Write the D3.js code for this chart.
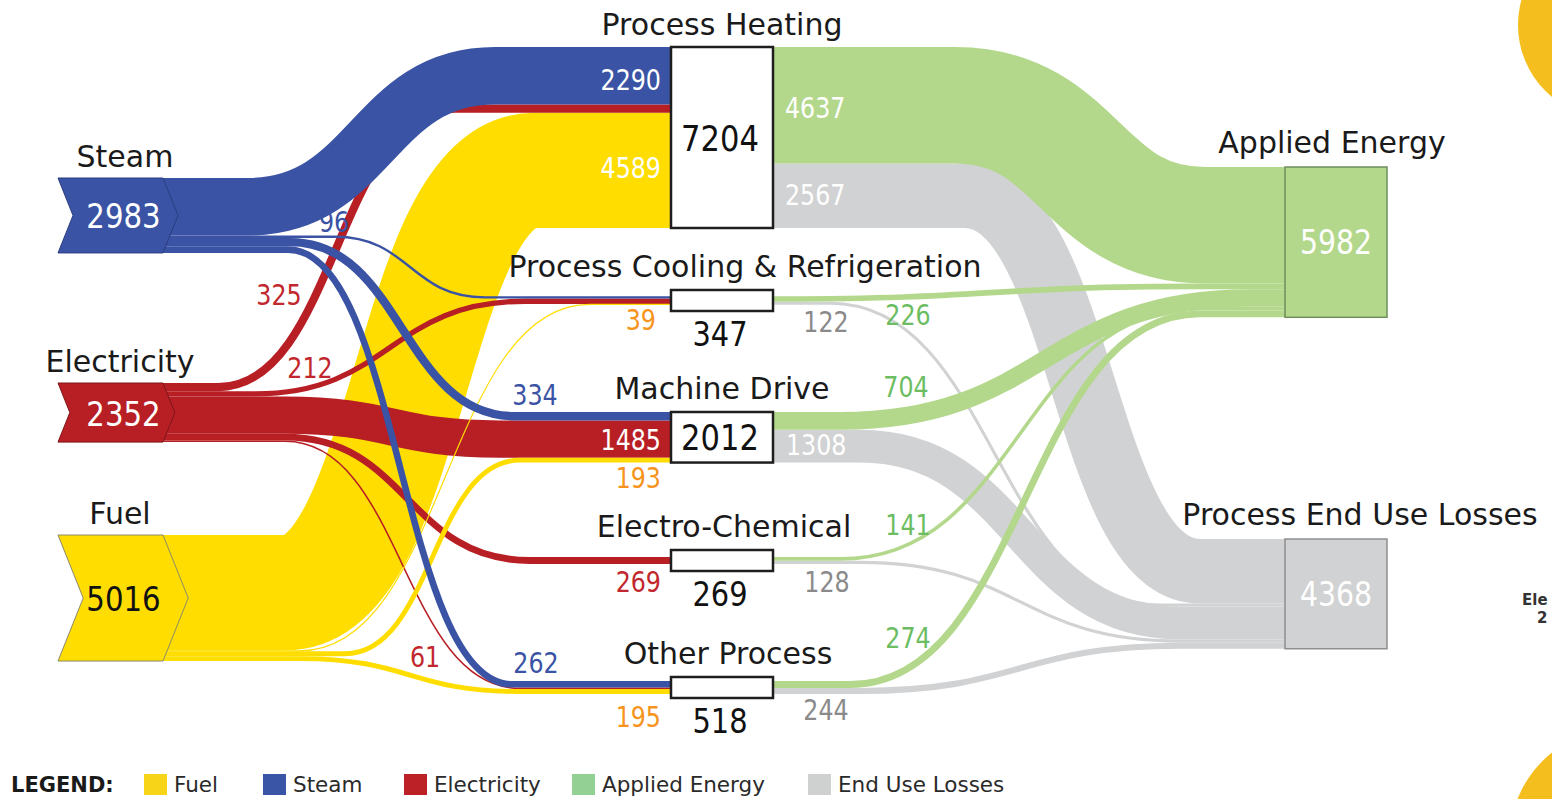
<!DOCTYPE html>
<html><head><meta charset="utf-8">
<script src="https://cdn.jsdelivr.net/npm/d3@7"></script>
<style>
body{margin:0;background:#fff;overflow:hidden}
text{font-family:"DejaVu Sans",Verdana,sans-serif}
</style>
</head><body>
<svg id="c" width="1552" height="799"></svg>
<script>
// ---------------- DATA ----------------
const sources = ["Steam", "Electricity", "Fuel"];
const sourceTotals = [2983, 2352, 5016];
const uses = ["Process Heating", "Process Cooling & Refrigeration", "Machine Drive", "Electro-Chemical", "Other Process"];
const useTotals = [7204, 347, 2012, 269, 518];
const outcomes = ["Applied Energy", "Process End Use Losses"];
const outcomeTotals = [5982, 4368];
// flows from each source into each end use (order of `uses`)
const steamToUse = [2290, 96, 334, 0, 262];
const electricityToUse = [325, 212, 1485, 269, 61];
const fuelToUse = [4589, 39, 193, 0, 195];
// flows out of each end use
const appliedFromUse = [4637, 226, 704, 141, 274];
const lossesFromUse = [2567, 122, 1308, 128, 244];
const legendItems = ["Fuel", "Steam", "Electricity", "Applied Energy", "End Use Losses"];
const edgeTexts = ["Ele", "2"];

// ---------------- STYLE / LAYOUT ----------------
const COL = {steam:"#3A53A4", elec:"#B81F25", fuel:"#FFDD00", applied:"#B3D88C", loss:"#D1D2D3"};
const srcColors = [COL.steam, COL.elec, COL.fuel];
const srcStroke = ["#2A3D80", "#7E1519", "#8A8A6A"];
const srcLabelCol = ["#3A53A4", "#C1272D", "#F7941D"];
const srcValueText = ["#FFFFFF", "#FFFFFF", "#111111"];
const legendColors = ["#F7D417", "#3A55A5", "#BC2127", "#93D094", "#CFD0D0"];

const inFlows = [steamToUse, electricityToUse, fuelToUse];
const outFlows = [appliedFromUse, lossesFromUse];

const svg = d3.select("#c");
// value -> band thickness
const W = d3.scaleLinear().domain([0, d3.max(useTotals)]).range([0, 181]);

const srcX = {left: 58, base: 163};
const srcTop = [178, 383, 535];
const srcTitleX = [125, 120, 120];
const useX = {left: 671, right: 773};
const useTop = [47, 290, 412, 550, 677];
const useMinH = 21;
const outX = {left: 1285, right: 1387};
const outTop = [167, 539];
const useH = useTotals.map(v => Math.max(W(v), useMinH));
const outH = outcomeTotals.map(v => W(v));

// curve start / end x for each link
const leftCurves = [
  [[248, 495], [335, 485], [290, 515], null, [288, 512]],
  [[218, 455], [255, 525], [285, 500], [285, 530], [285, 520]],
  [[285, 535], [300, 590], [345, 520], null, [300, 520]]
];
const rightCurves = [
  [[955, 1205], [780, 1200], [840, 1250], [840, 1200], [850, 1200]],
  [[965, 1200], [830, 1160], [860, 1180], [860, 1180], [860, 1180]]
];
// label placement [x, baseline, anchor]
const leftLabelPos = [
  [[661, 90, "end"], [334, 232, "middle"], [535, 405, "middle"], null, [536, 673, "middle"]],
  [[279, 305, "middle"], [310, 378, "middle"], [661, 450, "end"], [661, 592, "end"], [425, 667, "middle"]],
  [[661, 178, "end"], [656, 330, "end"], [661, 488, "end"], null, [661, 727, "end"]]
];
const rightLabelPos = [
  [[785, 118, "start"], [908, 325, "middle"], [906, 397, "middle"], [908, 535, "middle"], [908, 648, "middle"]],
  [[785, 205, "start"], [826, 332, "middle"], [786, 455, "start"], [827, 592, "middle"], [826, 720, "middle"]]
];

// ---------------- BUILD LINKS ----------------
const leftLinks = [], rightLinks = [];
sources.forEach((s, i) => {
  let y = srcTop[i];
  uses.forEach((u, j) => {
    const v = inFlows[i][j]; if (!v) return;
    leftLinks.push({i, j, v, y0: y + W(v) / 2});
    y += W(v);
  });
});
uses.forEach((u, j) => {
  const tot = d3.sum(inFlows, f => f[j]);
  let y = useTop[j] + (useH[j] - W(tot)) / 2;
  sources.forEach((s, i) => {
    const v = inFlows[i][j]; if (!v) return;
    const l = leftLinks.find(l => l.i === i && l.j === j);
    l.y1 = y + W(v) / 2; y += W(v);
  });
  const tot2 = d3.sum(outFlows, f => f[j]);
  let y2 = useTop[j] + (useH[j] - W(tot2)) / 2;
  outcomes.forEach((o, k) => {
    const v = outFlows[k][j]; if (!v) return;
    rightLinks.push({k, j, v, y0: y2 + W(v) / 2});
    y2 += W(v);
  });
});
outcomes.forEach((o, k) => {
  let y = outTop[k];
  uses.forEach((u, j) => {
    const v = outFlows[k][j]; if (!v) return;
    const l = rightLinks.find(l => l.k === k && l.j === j);
    l.y1 = y + W(v) / 2; y += W(v);
  });
});

function bandPath(x0, y0, xs, xe, y1, x1) {
  const p = d3.path();
  const xm = (xs + xe) / 2;
  p.moveTo(x0, y0); p.lineTo(xs, y0);
  p.bezierCurveTo(xm, y0, xm, y1, xe, y1);
  p.lineTo(x1, y1);
  return p.toString();
}

const gLinks = svg.append("g").attr("fill", "none");
function drawLeft(filter) {
  gLinks.selectAll(null).data(leftLinks.filter(filter)).join("path")
    .attr("d", d => { const c = leftCurves[d.i][d.j]; return bandPath(srcX.base - 2, d.y0, c[0], c[1], d.y1, useX.left + 1); })
    .attr("stroke", d => srcColors[d.i])
    .attr("stroke-width", d => Math.max(W(d.v), 1.2));
}
function drawRight(filter) {
  gLinks.selectAll(null).data(rightLinks.filter(filter)).join("path")
    .attr("d", d => { const c = rightCurves[d.k][d.j]; return bandPath(useX.right - 1, d.y0, c[0], c[1], d.y1, outX.left + 1); })
    .attr("stroke", d => d.k === 0 ? COL.applied : COL.loss)
    .attr("stroke-width", d => Math.max(W(d.v), 1.2));
}
drawRight(d => d.k === 1);
drawRight(d => d.k === 0);
drawLeft(d => d.i === 2 && d.j === 0);
drawLeft(d => d.i === 1);
drawLeft(d => d.i === 2 && d.j !== 0);
drawLeft(d => d.i === 0);

// ---------------- NODES ----------------
const gSrc = svg.append("g");
sources.forEach((s, i) => {
  const h = W(sourceTotals[i]), t = srcTop[i], m = t + h / 2, dep = h * 0.2;
  const pts = [[srcX.left, t], [srcX.base, t], [srcX.base + dep, m], [srcX.base, t + h], [srcX.left, t + h], [srcX.left + dep, m]];
  gSrc.append("polygon").attr("points", pts.map(p => p.join(",")).join(" "))
    .attr("fill", srcColors[i]).attr("stroke", srcStroke[i]).attr("stroke-width", 1);
  gSrc.append("text").attr("x", srcTitleX[i]).attr("y", t - 11)
    .attr("text-anchor", "middle").attr("font-size", 30).attr("fill", "#1a1a1a").text(s);
  gSrc.append("text").attr("transform", `translate(${(srcX.left + srcX.base) / 2 + 13},${m + 13}) scale(0.86,1)`)
    .attr("text-anchor", "middle").attr("font-size", 34).attr("fill", srcValueText[i]).text(sourceTotals[i]);
});

const gUse = svg.append("g");
const useTitleDx = [0, 23, 0, 2, 6];
uses.forEach((u, j) => {
  const big = W(useTotals[j]) >= useMinH;
  gUse.append("rect").attr("x", useX.left).attr("y", useTop[j]).attr("width", useX.right - useX.left).attr("height", useH[j])
    .attr("fill", "#fff").attr("stroke", "#1e1e1e").attr("stroke-width", 2.5);
  gUse.append("text").attr("x", (useX.left + useX.right) / 2 + useTitleDx[j]).attr("y", useTop[j] - (j === 0 ? 12 : 13))
    .attr("text-anchor", "middle").attr("font-size", 30).attr("fill", "#1a1a1a").text(u);
  const ty = big ? useTop[j] + useH[j] / 2 + 13 : useTop[j] + useH[j] + 35;
  gUse.append("text").attr("transform", `translate(${(useX.left + useX.right) / 2 - 2},${ty}) scale(0.85,1)`)
    .attr("text-anchor", "middle").attr("font-size", big ? 36 : 34).attr("fill", "#111").text(useTotals[j]);
});

const gOut = svg.append("g");
const outFill = [COL.applied, COL.loss], outStroke = ["#6F8F5E", "#8E8E8E"];
const outTitleX = [1332, 1360];
outcomes.forEach((o, k) => {
  gOut.append("rect").attr("x", outX.left).attr("y", outTop[k]).attr("width", outX.right - outX.left).attr("height", outH[k])
    .attr("fill", outFill[k]).attr("stroke", outStroke[k]).attr("stroke-width", 1.5);
  gOut.append("text").attr("x", outTitleX[k]).attr("y", outTop[k] - 14)
    .attr("text-anchor", "middle").attr("font-size", 30).attr("fill", "#1a1a1a").text(o);
  gOut.append("text").attr("transform", `translate(${(outX.left + outX.right) / 2},${outTop[k] + outH[k] / 2 + 12}) scale(0.86,1)`)
    .attr("text-anchor", "middle").attr("font-size", 33).attr("fill", "#fff").text(outcomeTotals[k]);
});

// ---------------- LINK LABELS ----------------
const gLab = svg.append("g");
leftLinks.forEach(d => {
  const p = leftLabelPos[d.i][d.j];
  const white = (d.j === 0 && d.i !== 1) || (d.i === 1 && d.j === 2);
  gLab.append("text").attr("transform", `translate(${p[0]},${p[1]}) scale(0.82,1)`)
    .attr("text-anchor", p[2]).attr("font-size", 29)
    .attr("fill", white ? "#fff" : srcLabelCol[d.i]).text(d.v);
});
rightLinks.forEach(d => {
  const p = rightLabelPos[d.k][d.j];
  const white = d.j === 0 || (d.j === 2 && d.k === 1);
  gLab.append("text").attr("transform", `translate(${p[0]},${p[1]}) scale(0.82,1)`)
    .attr("text-anchor", p[2]).attr("font-size", 29)
    .attr("fill", white ? "#fff" : (d.k === 0 ? "#6CBD62" : "#8A8A8A")).text(d.v);
});

// ---------------- LEGEND ----------------
const gLeg = svg.append("g");
gLeg.append("text").attr("x", 11).attr("y", 792).attr("font-size", 21).attr("font-weight", "bold")
  .attr("fill", "#1a1a1a").text("LEGEND:");
const legendX = [144, 263, 404, 572, 808];
legendItems.forEach((t, i) => {
  gLeg.append("rect").attr("x", legendX[i]).attr("y", 774).attr("width", 23).attr("height", 21).attr("fill", legendColors[i]);
  gLeg.append("text").attr("x", legendX[i] + 30).attr("y", 792).attr("font-size", 21.5).attr("fill", "#2a2a2a").text(t);
});

// ---------------- EDGE DECORATION ----------------
svg.append("circle").attr("cx", 1611).attr("cy", 25).attr("r", 93).attr("fill", "#F4BE1E");
svg.append("circle").attr("cx", 1620).attr("cy", 839).attr("r", 110).attr("fill", "#F4BE1E");
svg.append("text").attr("x", 1522).attr("y", 605).attr("font-size", 15).attr("font-weight", "bold").attr("fill", "#333").text(edgeTexts[0]);
svg.append("text").attr("x", 1537).attr("y", 623).attr("font-size", 15).attr("font-weight", "bold").attr("fill", "#333").text(edgeTexts[1]);
</script>
</body></html>
